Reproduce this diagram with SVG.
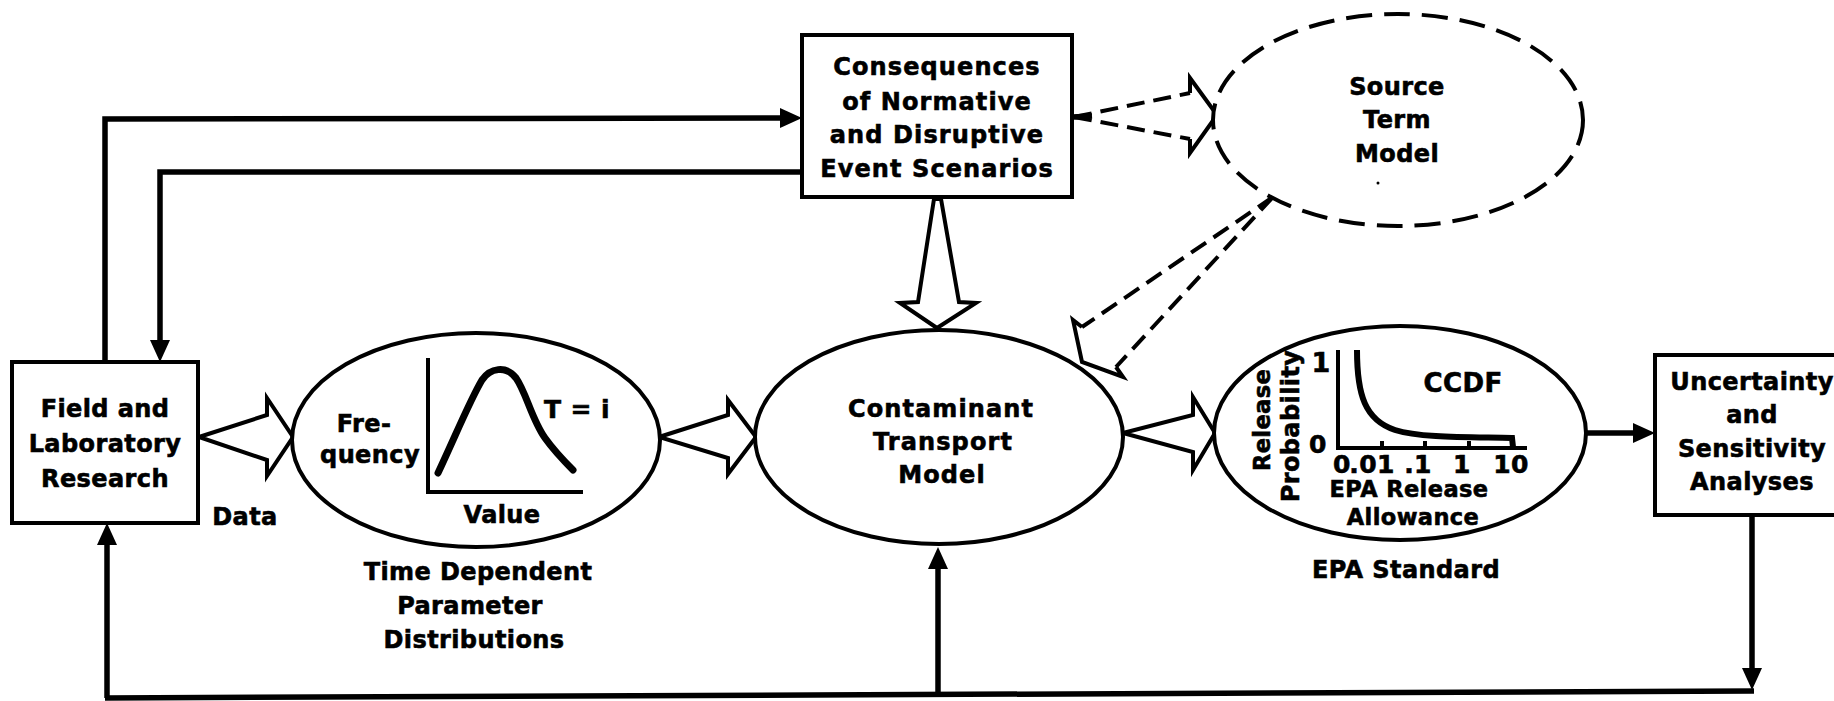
<svg xmlns="http://www.w3.org/2000/svg" width="1834" height="701" viewBox="0 0 1834 701">
<defs>
<style>
.bg{fill:#fff}
.box{fill:#fff;stroke:#000;stroke-width:4}
.ell{fill:#fff;stroke:#000;stroke-width:4}
.dell{fill:#fff;stroke:#000;stroke-width:4;stroke-dasharray:26 12}
.ln{fill:none;stroke:#000;stroke-width:5.5;stroke-linejoin:miter}
.hol{fill:#fff;stroke:#000;stroke-width:4;stroke-linejoin:miter}
.dl{fill:none;stroke:#000;stroke-width:4;stroke-dasharray:18 9}
.hd{fill:none;stroke:#000;stroke-width:4;stroke-linejoin:miter}
.ax{fill:none;stroke:#000;stroke-width:4}
.crv{fill:none;stroke:#000;stroke-width:7;stroke-linecap:round}
text{font-family:"DejaVu Sans","Liberation Sans",sans-serif;font-weight:bold;font-size:24px;fill:#000;stroke:#000;stroke-width:0.6px;letter-spacing:0.4px}
.c{text-anchor:middle}
.s22{font-size:22.5px}
.s25{font-size:25px}
.wide text{letter-spacing:1.1px}
</style>
<marker id="ah" viewBox="0 0 22 20" refX="4" refY="10" markerWidth="22" markerHeight="20" orient="auto" markerUnits="userSpaceOnUse">
<path d="M0,0 L22,10 L0,20 Z" fill="#000"/>
</marker>
</defs>
<rect class="bg" x="0" y="0" width="1834" height="701"/>

<g id="connectors">
<path class="ln" d="M105,362 L105,119 L784,118" marker-end="url(#ah)"/>
<path class="ln" d="M802,172 L160,172 L160,344" marker-end="url(#ah)"/>
<path class="ln" d="M1754,691 L105,698"/>
<path class="ln" d="M107,698 L107,541" marker-end="url(#ah)"/>
<path class="ln" d="M938,695 L938,565" marker-end="url(#ah)"/>
<path class="ln" d="M1752,515 L1752,672" marker-end="url(#ah)"/>
<path class="ln" d="M1587,433 L1637,433" marker-end="url(#ah)"/>
<path class="hol" d="M199,437 L267,415 L267,398 L293,437 L267,476 L267,460 Z"/>
<path class="hol" d="M659,437 L728,415 L728,400 L756,437 L728,474 L728,458 Z"/>
<path class="hol" d="M1123,433 L1193,415 L1193,397 L1215,433 L1193,470 L1193,452 Z"/>
<path class="hol" d="M934,199 L918,302 L900,303 L937,328 L976,303 L959,302 L941,199 Z"/>
<path class="dl" d="M1074,117 L1190,93 M1074,117 L1190,139"/>
<path class="ln" d="M1073,117 L1092,116"/>
<path class="hd" d="M1190,93 L1190,78 L1217,115 L1190,153 L1190,139"/>
<path class="dl" d="M1273,197 L1082,327 M1273,197 L1116,367"/>
<path class="hd" d="M1082,327 L1073,320 L1082,362 L1123,377 L1116,367"/>
</g>

<g id="field-lab">
<rect class="box" x="12" y="362" width="186" height="161"/>
<text class="c" x="105" y="417">Field and</text>
<text class="c" x="105" y="452">Laboratory</text>
<text class="c" x="105" y="487">Research</text>
</g>
<text id="data-label" class="c" x="245" y="525">Data</text>

<g id="consequences" class="wide">
<rect class="box" x="802" y="35" width="270" height="162"/>
<text class="c" x="937" y="75">Consequences</text>
<text class="c" x="937" y="110">of Normative</text>
<text class="c" x="937" y="143">and Disruptive</text>
<text class="c" x="937" y="177">Event Scenarios</text>
</g>

<g id="source-term">
<ellipse class="dell" cx="1398" cy="120" rx="185" ry="106"/>
<text class="c" x="1397" y="95">Source</text>
<text class="c" x="1397" y="128">Term</text>
<text class="c" x="1397" y="162">Model</text>
<circle cx="1378" cy="183" r="1.5" fill="#000"/>
</g>

<g id="time-dependent">
<ellipse class="ell" cx="476" cy="440" rx="184" ry="107"/>
<path class="ax" d="M428,358 L428,492 L583,492"/>
<path class="crv" d="M438,473 C455,437 470,400 482,380 C490,368 506,365 516,378 C526,392 532,420 545,438 C555,452 565,462 573,470"/>
<text class="c" x="364" y="432">Fre-</text>
<text class="c" x="370" y="463">quency</text>
<text class="c" x="577" y="418" style="font-size:25px">T = i</text>
<text class="c" x="502" y="523">Value</text>
<text class="c" x="478" y="580">Time Dependent</text>
<text class="c" x="470" y="614">Parameter</text>
<text class="c" x="474" y="648">Distributions</text>
</g>

<g id="contaminant" class="wide">
<ellipse class="ell" cx="939" cy="437" rx="184" ry="107"/>
<text class="c" x="941" y="417">Contaminant</text>
<text class="c" x="943" y="450">Transport</text>
<text class="c" x="942" y="483">Model</text>
</g>

<g id="epa">
<ellipse class="ell" cx="1400" cy="433" rx="186" ry="107"/>
<path class="ax" d="M1338,350 L1338,448 L1527,448 M1382,441 L1382,448 M1425,441 L1425,448 M1469,441 L1469,448"/>
<path class="crv" style="stroke-width:6;stroke-linecap:butt" d="M1357,350 C1357,395 1365,420 1395,430 C1420,438 1470,437 1512,438 L1513,447"/>
<text class="c" x="1321" y="372" style="font-size:27px">1</text>
<text class="c" x="1318" y="453" style="font-size:25px">0</text>
<text class="c s25" x="1342" y="473">0</text>
<text class="c s25" x="1372" y="473">.01</text>
<text class="c s25" x="1418" y="473">.1</text>
<text class="c s25" x="1462" y="473">1</text>
<text class="c s25" x="1511" y="473">10</text>
<text class="c" x="1463" y="392" style="font-size:26px">CCDF</text>
<text class="c s22" x="1409" y="497">EPA Release</text>
<text class="c s22" x="1413" y="525">Allowance</text>
<text class="c s22" transform="translate(1270,420) rotate(-90)">Release</text>
<text class="c" transform="translate(1299,426) rotate(-90)">Probability</text>
<text class="c" x="1406" y="578">EPA Standard</text>
</g>

<g id="uncertainty">
<rect class="box" x="1655" y="355" width="190" height="160"/>
<text class="c" x="1752" y="390">Uncertainty</text>
<text class="c" x="1752" y="423">and</text>
<text class="c" x="1752" y="457">Sensitivity</text>
<text class="c" x="1752" y="490">Analyses</text>
</g>
</svg>
